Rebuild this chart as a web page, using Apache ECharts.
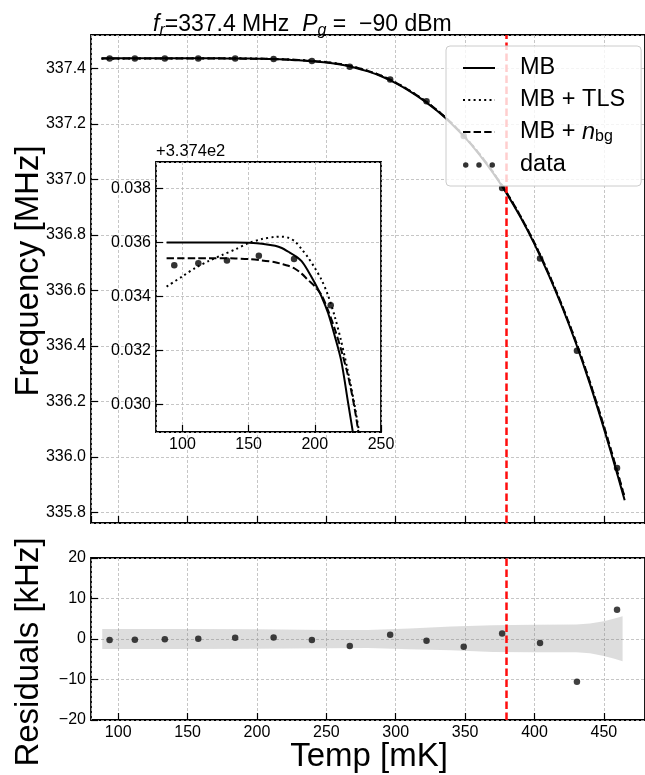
<!DOCTYPE html>
<html>
<head>
<meta charset="utf-8">
<script src="https://cdn.jsdelivr.net/npm/echarts@6/dist/echarts.min.js"></script>
<style>
  html, body { margin: 0; padding: 0; background: #fff; }
  #chart { width: 645px; height: 775px; }
</style>
</head>
<body>
<div id="chart"></div>
<script>
// ---- measured resonance frequency vs bath temperature ----
const dataT = [93.8, 112.0, 133.6, 157.7, 184.3, 212.0, 239.6, 266.9, 296.0, 322.2, 349.0, 376.7, 404.0, 430.6, 459.5];      // mK
const dataF = [337.43515, 337.43522, 337.43533, 337.43550, 337.43538, 337.43367, 337.4260, 337.4060, 337.3600,
               337.2811, 337.1560, 336.9690, 336.7150, 336.3820, 335.9600];                                                   // MHz
const residuals = [-0.25, -0.17, -0.08, 0.07, 0.32, 0.39, -0.25, -1.72, 1.06, -0.42, -1.89, 1.38, -0.98, -10.57, 7.2];         // kHz

// ---- fitted model curves (MHz) on a temperature grid (mK) ----
const curveT = [88, 100, 110, 120, 130, 140, 150, 160, 170, 175, 180, 185, 190, 195, 200, 205, 210, 215, 220, 225, 230, 235,
                240, 250, 260, 270, 280, 290, 300, 310, 320, 330, 340, 350, 360, 370, 380, 390, 400, 410, 420, 430, 440,
                450, 460, 465];
const mbF = [337.43599, 337.43599, 337.43599, 337.43599, 337.43599, 337.43599, 337.43598, 337.43595, 337.43587, 337.43579,
             337.43565, 337.43550, 337.43530, 337.43493, 337.43449, 337.43400, 337.43338, 337.43254, 337.43160, 337.43010,
             337.42858, 337.42700,
             337.42540, 337.42065, 337.41365, 337.40315, 337.38890, 337.37040, 337.34665, 337.31790, 337.28440, 337.24590,
             337.20140, 337.14990, 337.09090, 337.02390, 336.94840, 336.86290, 336.76640, 336.65840, 336.53890, 336.40740,
             336.26190, 336.10240, 335.93190, 335.84310];
const tlsF = [337.43436, 337.43474, 337.43506, 337.43531, 337.43553, 337.43574, 337.43597, 337.43612, 337.43620, 337.43621,
              337.43617, 337.43603, 337.43575, 337.43543, 337.43505, 337.43462, 337.43403, 337.43326, 337.43232, 337.43122,
              337.42998, 337.42850,
              337.42690, 337.42235, 337.41545, 337.40495, 337.39070, 337.37230, 337.34865, 337.31990, 337.28650, 337.24810,
              337.20370, 337.15230, 337.09340, 337.02660, 336.95130, 336.86610, 336.77000, 336.66250, 336.54350, 336.41260,
              336.26800, 336.10950, 335.94030, 335.85280];
const nbgF = [337.43541, 337.43541, 337.43541, 337.43541, 337.43541, 337.43540, 337.43538, 337.43533, 337.43526, 337.43520,
              337.43513, 337.43502, 337.43484, 337.43460, 337.43437, 337.43405, 337.43348, 337.43280, 337.43200, 337.43108,
              337.42987, 337.42830,
              337.42670, 337.42215, 337.41525, 337.40485, 337.39070, 337.37230, 337.34865, 337.32000, 337.28660, 337.24820,
              337.20380, 337.15240, 337.09360, 337.02680, 336.95150, 336.86630, 336.77040, 336.66290, 336.54390, 336.41340,
              336.26890, 336.11090, 335.94190, 335.85310];

// ---- residual uncertainty band (kHz) ----
const bandT  = [88.5, 150, 200, 250, 280, 310, 340, 370, 400, 430, 440, 450, 457, 463.5];
const bandHi = [2.45, 2.45, 2.4, 2.25, 2.2, 2.6, 3.1, 3.4, 3.5, 3.6, 3.8, 4.4, 5.0, 5.6];
const bandLo = [-2.45, -2.45, -2.4, -2.3, -2.25, -2.5, -2.8, -3.2, -3.3, -3.3, -3.5, -4.2, -4.8, -5.5];

// ---- axis ranges ----
const tRange = [80.4, 479.65];
const fRange = [335.7614, 337.52];
const resRange = [-20, 20];
const insetT = [80, 250];
const insetF = [337.428974, 337.438974];
const insetOffset = 337.4;
const markT = 380;

const FONT = 'Liberation Sans';
const pair = (xs, ys) => xs.map((x, i) => [x, ys[i]]);

const gridLine = { show: true, lineStyle: { color: '#b8b8b8', width: 0.8, type: [3, 2] } };
const tick = { show: true, inside: true, length: 7, lineStyle: { color: '#000', width: 1.2 } };
const label = { color: '#000', fontFamily: FONT, fontSize: 16 };
const noLine = { show: false, onZero: false };

const lineStyles = {
  'MB': { color: '#000', width: 2, type: 'solid' },
  'MB + TLS': { color: '#000', width: 2, type: [2, 3.3] },
  'MB + nbg': { color: '#000', width: 2, type: [7.4, 3.2] }
};
const curves = { 'MB': mbF, 'MB + TLS': tlsF, 'MB + nbg': nbgF };

const series = [];
// main panel and inset curves
[[0, 2], [2, 7]].forEach(([axis, z]) => {
  Object.keys(curves).forEach(name => {
    series.push({
      type: 'line', name, xAxisIndex: axis, yAxisIndex: axis, z,
      data: pair(curveT, curves[name]), symbol: 'none', smooth: 0.3,
      itemStyle: { color: '#000' },
      lineStyle: lineStyles[name], clip: true, silent: true
    });
  });
  series.push({
    type: 'scatter', name: 'data', xAxisIndex: axis, yAxisIndex: axis, z: z + 1,
    data: pair(dataT, dataF), symbolSize: 6.5, itemStyle: { color: '#000' }, clip: true, silent: true
  });
});
const marker = {
  silent: true, symbol: ['none', 'none'], label: { show: false },
  lineStyle: { color: '#ff0d0d', width: 2.5, type: [7.5, 3.5] },
  data: [{ xAxis: markT }]
};
// vertical marker in main panel
series[0].markLine = marker;
// residual band
series.push({
  type: 'custom', name: 'band', xAxisIndex: 1, yAxisIndex: 1, z: 1, silent: true,
  data: bandT.map((t, i) => [t, bandLo[i], bandHi[i]]),
  encode: { x: 0, y: [1, 2] },
  renderItem: (params, api) => {
    if (params.dataIndex !== 0) return null;
    const pts = [];
    bandT.forEach((t, i) => pts.push(api.coord([t, bandHi[i]])));
    for (let i = bandT.length - 1; i >= 0; i--) pts.push(api.coord([bandT[i], bandLo[i]]));
    return { type: 'polygon', shape: { points: pts }, style: { fill: 'rgba(128,128,128,0.27)' } };
  }
});
// residual points
series.push({
  type: 'scatter', name: 'residuals', xAxisIndex: 1, yAxisIndex: 1, z: 3,
  data: pair(dataT, residuals), symbolSize: 6.5, itemStyle: { color: '#111' }, silent: true,
  markLine: marker
});

const dots = 'path://M0,3A3,3 0 1,1 6,3A3,3 0 1,1 0,3Z M14.5,3A3,3 0 1,1 20.5,3A3,3 0 1,1 14.5,3Z M29,3A3,3 0 1,1 35,3A3,3 0 1,1 29,3Z';
const hidden = { opacity: 0 };
const axisTitle = (text, x, y, rot) => ({
  type: 'text', x, y, rotation: rot, z: 10,
  style: { text, fontFamily: FONT, fontSize: 33, fill: '#000', align: 'center', verticalAlign: 'middle' }
});

const option = {
  animation: false,
  backgroundColor: '#fff',
  title: {
    left: 148, top: 6,
    text: '{i|f}{s|r}{n|=337.4 MHz  }{i|P}{s|g}{n| =  \u221290 dBm}',
    textStyle: {
      rich: {
        n: { fontFamily: FONT, fontSize: 23, fontWeight: 'normal', color: '#000', lineHeight: 28 },
        i: { fontFamily: FONT, fontSize: 23, fontWeight: 'normal', fontStyle: 'italic', color: '#000', lineHeight: 28 },
        s: { fontFamily: FONT, fontSize: 16, fontWeight: 'normal', fontStyle: 'italic', color: '#000', lineHeight: 14, verticalAlign: 'bottom' }
      }
    }
  },
  grid: [
    { left: 91, top: 35, width: 556, height: 488, show: true, borderColor: '#000', borderWidth: 1.8, backgroundColor: 'transparent' },
    { left: 91, top: 558, width: 556, height: 162, show: true, borderColor: '#000', borderWidth: 1.8 },
    { left: 156, top: 162, width: 225, height: 270, show: true, borderColor: '#000', borderWidth: 1.8, backgroundColor: '#fff', z: 5 }
  ],
  xAxis: [
    { gridIndex: 0, type: 'value', min: tRange[0], max: tRange[1], splitNumber: 8,
      axisLine: noLine, axisTick: tick, axisLabel: { show: false }, splitLine: gridLine },
    { gridIndex: 1, type: 'value', min: tRange[0], max: tRange[1], splitNumber: 8,
      axisLine: noLine, axisTick: tick, splitLine: gridLine,
      axisLabel: Object.assign({ margin: 5, showMinLabel: false, showMaxLabel: false }, label) },
    { gridIndex: 2, type: 'value', min: insetT[0], max: insetT[1], splitNumber: 4, z: 6,
      axisLine: noLine, axisTick: tick, splitLine: gridLine,
      axisLabel: Object.assign({ margin: 5, showMinLabel: false }, label) }
  ],
  yAxis: [
    { gridIndex: 0, type: 'value', min: fRange[0], max: fRange[1], splitNumber: 9,
      axisLine: noLine, axisTick: tick, splitLine: gridLine,
      axisLabel: Object.assign({ margin: 5, showMinLabel: false, showMaxLabel: false, formatter: v => v.toFixed(1) }, label) },
    { gridIndex: 1, type: 'value', min: resRange[0], max: resRange[1], interval: 10,
      axisLine: noLine, axisTick: tick, splitLine: gridLine,
      axisLabel: Object.assign({ margin: 5, formatter: v => (v < 0 ? '\u2212' + Math.abs(v) : String(v)) }, label) },
    { gridIndex: 2, type: 'value', min: insetF[0], max: insetF[1], splitNumber: 5, z: 6,
      axisLine: noLine, axisTick: tick, splitLine: gridLine,
      axisLabel: Object.assign({ margin: 5, showMinLabel: false, showMaxLabel: false,
        formatter: v => (v - insetOffset).toFixed(3) }, label) }
  ],
  graphic: [
    { type: 'text', left: 156, top: 143, z: 10,
      style: { text: '+3.374e2', fontFamily: FONT, fontSize: 16.5, fill: '#000' } },
    axisTitle('Frequency [MHz]', 29, 271, Math.PI / 2),
    axisTitle('Residuals [kHz]', 29, 652, Math.PI / 2),
    axisTitle('Temp [mK]', 369, 757, 0)
  ],
  legend: {
    left: 446, top: 46, orient: 'vertical', z: 20,
    padding: [10, 16, 9, 16], itemGap: 8, itemWidth: 32, itemHeight: 5.5,
    backgroundColor: 'rgba(255,255,255,0.8)', borderColor: '#cccccc', borderWidth: 1, borderRadius: 4,
    selectedMode: false,
    data: [
      { name: 'MB', itemStyle: hidden },
      { name: 'MB + TLS', itemStyle: hidden },
      { name: 'MB + nbg', itemStyle: hidden },
      { name: 'data', icon: dots }
    ],
    formatter: name => name === 'MB + nbg' ? '{t|MB + }{i|n}{s|bg}' : '{t|' + name + '}',
    textStyle: {
      padding: [0, 0, 0, 20],
      rich: {
        t: { fontFamily: FONT, fontSize: 23.5, color: '#000', lineHeight: 26 },
        i: { fontFamily: FONT, fontSize: 23.5, fontStyle: 'italic', color: '#000', lineHeight: 26 },
        s: { fontFamily: FONT, fontSize: 16, color: '#000', lineHeight: 14, verticalAlign: 'bottom' }
      }
    }
  },
  series
};

const chart = echarts.init(document.getElementById('chart'), null, { renderer: 'canvas' });
chart.setOption(option);
</script>
</body>
</html>
